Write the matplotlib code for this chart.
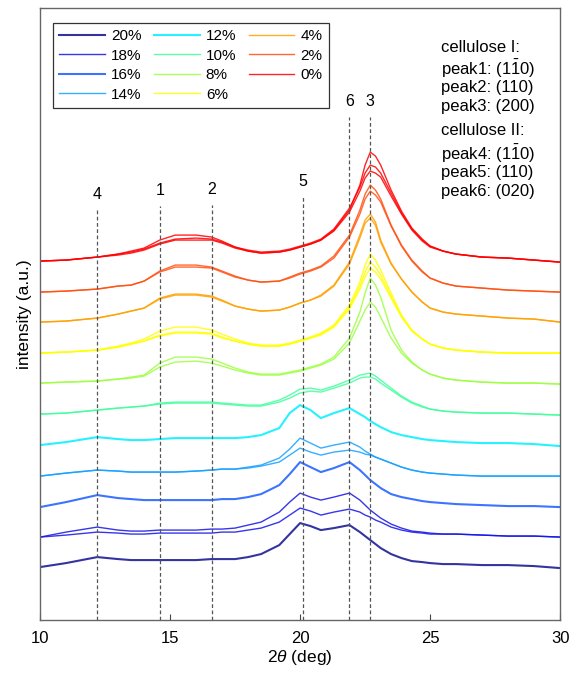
import matplotlib
matplotlib.use("Agg")
from matplotlib import pyplot as plt

plt.rcParams['font.family'] = ['Liberation Sans', 'DejaVu Sans']
plt.rcParams['mathtext.fontset'] = 'custom'
plt.rcParams['mathtext.rm'] = 'Liberation Sans'
plt.rcParams['mathtext.it'] = 'Liberation Sans:italic'

# 2theta grid (deg)
two_theta = [10, 11, 12.2, 13, 13.5, 14, 14.6, 15.2, 16, 16.6, 17, 17.5, 18, 18.5, 19.2, 19.6,
             20, 20.4, 20.8, 21.3, 21.9, 22.3, 22.5, 22.7, 22.9, 23.1, 23.5, 23.9, 24.3, 24.7,
             25, 25.5, 26, 27, 28, 29, 30]

labels = ['20%', '18%', '16%', '14%', '12%', '10%', '8%', '6%', '4%', '2%', '0%']
offsets = [53, 83, 113, 144, 175, 206, 237, 267, 298, 328, 359]

# intensity (a.u.), replicates per concentration
int_20 = [[0, 4, 10, 8, 7, 7, 7, 7, 7, 8, 8, 8, 10, 13, 22, 33, 44, 41, 37, 39, 42, 35, 31, 27, 23, 19, 13, 9, 6, 5, 4, 3, 3, 2, 2, 1, -1]]
int_18 = [[0, 5, 10, 7, 6, 6, 7, 7, 7, 8, 8, 9, 12, 15, 25, 35, 44, 40, 37, 40, 44, 37, 32, 27, 23, 19, 13, 9, 6, 5, 4, 3, 3, 2, 1, 1, 0],
          [0, 2, 5, 4, 3, 3, 4, 4, 4, 4, 5, 5, 7, 9, 15, 22, 29, 26, 22, 25, 28, 25, 22, 20, 17, 15, 10, 7, 5, 4, 3, 3, 3, 2, 1, 1, 0]]
int_16 = [[0, 5, 12, 9, 8, 7, 7, 7, 7, 7, 8, 8, 10, 13, 22, 33, 45, 40, 35, 39, 45, 37, 32, 27, 23, 19, 13, 10, 8, 6, 5, 4, 3, 2, 1, 1, 0]]
int_14 = [[0, 3, 6, 5, 4, 4, 4, 4, 5, 6, 7, 7, 9, 11, 18, 27, 38, 33, 28, 31, 34, 29, 25, 22, 19, 17, 13, 9, 6, 4, 3, 2, 1, 0, 0, 0, 0],
          [0, 3, 6, 5, 4, 4, 4, 4, 5, 6, 7, 7, 8, 10, 14, 21, 28, 24, 21, 24, 26, 24, 22, 21, 19, 17, 13, 9, 6, 4, 3, 2, 1, 0, 0, 0, 0]]
int_12 = [[0, 3, 8, 6, 5, 5, 6, 7, 7, 7, 7, 7, 8, 10, 17, 32, 40, 35, 27, 32, 37, 31, 28, 24, 21, 18, 13, 10, 8, 6, 5, 4, 3, 2, 2, 1, -1]]
int_10 = [[0, 1, 4, 6, 7, 8, 11, 12, 12, 12, 11, 10, 9, 9, 14, 19, 25, 26, 24, 28, 34, 39, 40, 41, 38, 34, 26, 18, 12, 8, 5, 3, 2, 1, 1, 0, -1],
          [0, 1, 4, 6, 7, 8, 10, 11, 11, 11, 10, 9, 8, 8, 12, 16, 21, 23, 22, 26, 31, 36, 37, 37, 35, 31, 24, 17, 11, 7, 5, 3, 2, 1, 1, 0, -1]]
int_8 = [[0, 1, 2, 4, 6, 8, 20, 26, 26, 24, 20, 15, 11, 9, 9, 11, 13, 16, 19, 26, 45, 71, 90, 105, 98, 86, 53, 33, 21, 13, 9, 5, 3, 1, 0, 0, -1],
         [0, 1, 2, 4, 5, 7, 16, 21, 22, 20, 17, 13, 10, 8, 8, 10, 12, 15, 18, 24, 40, 62, 73, 81, 76, 66, 45, 30, 20, 13, 9, 5, 3, 1, 0, 0, -1]]
int_6 = [[0, 1, 3, 7, 10, 14, 22, 26, 26, 23, 19, 14, 10, 8, 8, 10, 13, 16, 20, 28, 48, 71, 88, 99, 93, 83, 60, 38, 23, 14, 9, 5, 3, 1, 0, 0, 0],
         [0, 1, 3, 6, 9, 12, 18, 21, 21, 20, 16, 12, 9, 7, 7, 9, 12, 15, 19, 27, 46, 67, 81, 91, 86, 78, 57, 37, 22, 14, 9, 5, 3, 1, 0, 0, 0],
         [0, 1, 3, 6, 9, 12, 17, 20, 20, 19, 15, 12, 9, 7, 7, 9, 12, 15, 18, 26, 44, 64, 76, 85, 81, 74, 55, 36, 22, 14, 9, 5, 3, 1, 0, 0, 0]]
int_4 = [[0, 1, 4, 8, 11, 14, 24, 28, 28, 26, 22, 16, 13, 11, 12, 15, 19, 22, 27, 37, 60, 87, 102, 108, 100, 82, 59, 43, 30, 20, 14, 10, 8, 6, 4, 3, 0],
         [0, 1, 4, 8, 11, 14, 23, 27, 27, 25, 21, 16, 13, 11, 12, 15, 19, 22, 26, 36, 58, 84, 99, 104, 97, 80, 58, 43, 30, 20, 14, 10, 8, 6, 4, 3, 0]]
int_2 = [[0, 1, 3, 6, 7, 11, 21, 27, 27, 25, 21, 16, 12, 10, 11, 15, 19, 22, 26, 36, 57, 82, 98, 107, 102, 93, 67, 47, 32, 21, 14, 9, 6, 4, 2, 1, 0],
         [0, 1, 3, 6, 7, 11, 20, 25, 25, 24, 20, 15, 12, 10, 11, 14, 18, 21, 25, 34, 55, 78, 93, 101, 97, 90, 66, 46, 31, 20, 14, 9, 6, 4, 2, 1, 0]]
int_0 = [[0, 1, 4, 7, 10, 13, 21, 26, 26, 24, 20, 14, 10, 8, 9, 11, 14, 17, 21, 31, 51, 76, 96, 109, 105, 96, 71, 50, 33, 22, 15, 10, 7, 4, 3, 1, -1],
         [0, 1, 4, 7, 9, 12, 18, 22, 23, 22, 19, 14, 11, 9, 10, 12, 15, 18, 22, 32, 53, 74, 88, 96, 94, 88, 68, 48, 32, 21, 15, 10, 7, 4, 3, 1, -1],
         [0, 1, 4, 6, 8, 11, 17, 21, 21, 21, 18, 13, 10, 8, 9, 11, 14, 17, 21, 30, 49, 70, 83, 90, 88, 84, 65, 47, 31, 20, 14, 10, 7, 4, 3, 1, -1]]

curves = [int_20, int_18, int_16, int_14, int_12, int_10, int_8, int_6, int_4, int_2, int_0]
colors = ['#10108f', '#1414e6', '#1a5cff', '#14a0ff', '#00f0ff', '#40ff9c',
          '#9cff40', '#ffff00', '#ffa000', '#ff5010', '#ff0000']

# peak positions and labels
peak_pos = [12.2, 14.6, 16.6, 20.1, 21.9, 22.7]
peak_lab = ['4', '1', '2', '5', '6', '3']
peak_top = [410, 414, 415, 423, 503, 503]

fig = plt.figure(figsize=(5.81, 6.74), dpi=100)
ax = fig.add_axes([0.069, 0.080, 0.895, 0.908])

for i in range(len(curves)):
    reps = curves[i]
    lw = 1.5 if len(reps) == 1 else 1.0
    for j, r in enumerate(reps):
        ax.plot(two_theta, [v + offsets[i] for v in r], c=colors[i], lw=lw, alpha=0.85,
                label=labels[i] if j == 0 else None)

for p, l, t in zip(peak_pos, peak_lab, peak_top):
    ax.plot([p, p], [0, t], ls=(0, (3, 2)), c='#555555', lw=0.9)
    ax.text(p, t + 8, l, ha='center', va='bottom', fontsize=11.5)

fs = 12
tx = 0.771
ax.text(tx, 0.935, 'cellulose I:', transform=ax.transAxes, fontsize=fs, va='center')
ax.text(tx, 0.900, r'peak1: (1$\mathrm{\bar{1}}$0)', transform=ax.transAxes, fontsize=fs, va='center')
ax.text(tx, 0.870, 'peak2: (110)', transform=ax.transAxes, fontsize=fs, va='center')
ax.text(tx, 0.839, 'peak3: (200)', transform=ax.transAxes, fontsize=fs, va='center')
ax.text(tx, 0.800, 'cellulose II:', transform=ax.transAxes, fontsize=fs, va='center')
ax.text(tx, 0.762, r'peak4: (1$\mathrm{\bar{1}}$0)', transform=ax.transAxes, fontsize=fs, va='center')
ax.text(tx, 0.731, 'peak5: (110)', transform=ax.transAxes, fontsize=fs, va='center')
ax.text(tx, 0.700, 'peak6: (020)', transform=ax.transAxes, fontsize=fs, va='center')

leg = ax.legend(loc='upper left', bbox_to_anchor=(0.025, 0.975), ncol=3, fontsize=11,
                fancybox=False, framealpha=1, edgecolor='#333333', handlelength=3.0,
                handletextpad=0.4, columnspacing=0.8, labelspacing=0.35, borderpad=0.4,
                borderaxespad=0)
leg.get_frame().set_linewidth(0.9)

ax.set_xlim(10, 30)
ax.set_ylim(0, 612)
ax.set_xticks([10, 15, 20, 25, 30])
ax.set_yticks([])
ax.tick_params(axis='x', direction='in', length=4, labelsize=12, pad=8, color='#444444')
for s in ax.spines.values():
    s.set_color('#666666')
    s.set_linewidth(1.0)
ax.set_xlabel(r'2$\it{\theta}$ (deg)', fontsize=12.5, labelpad=1)
ax.set_ylabel('intensity (a.u.)', fontsize=12.5, labelpad=6)

plt.savefig('out.png', dpi=100)
